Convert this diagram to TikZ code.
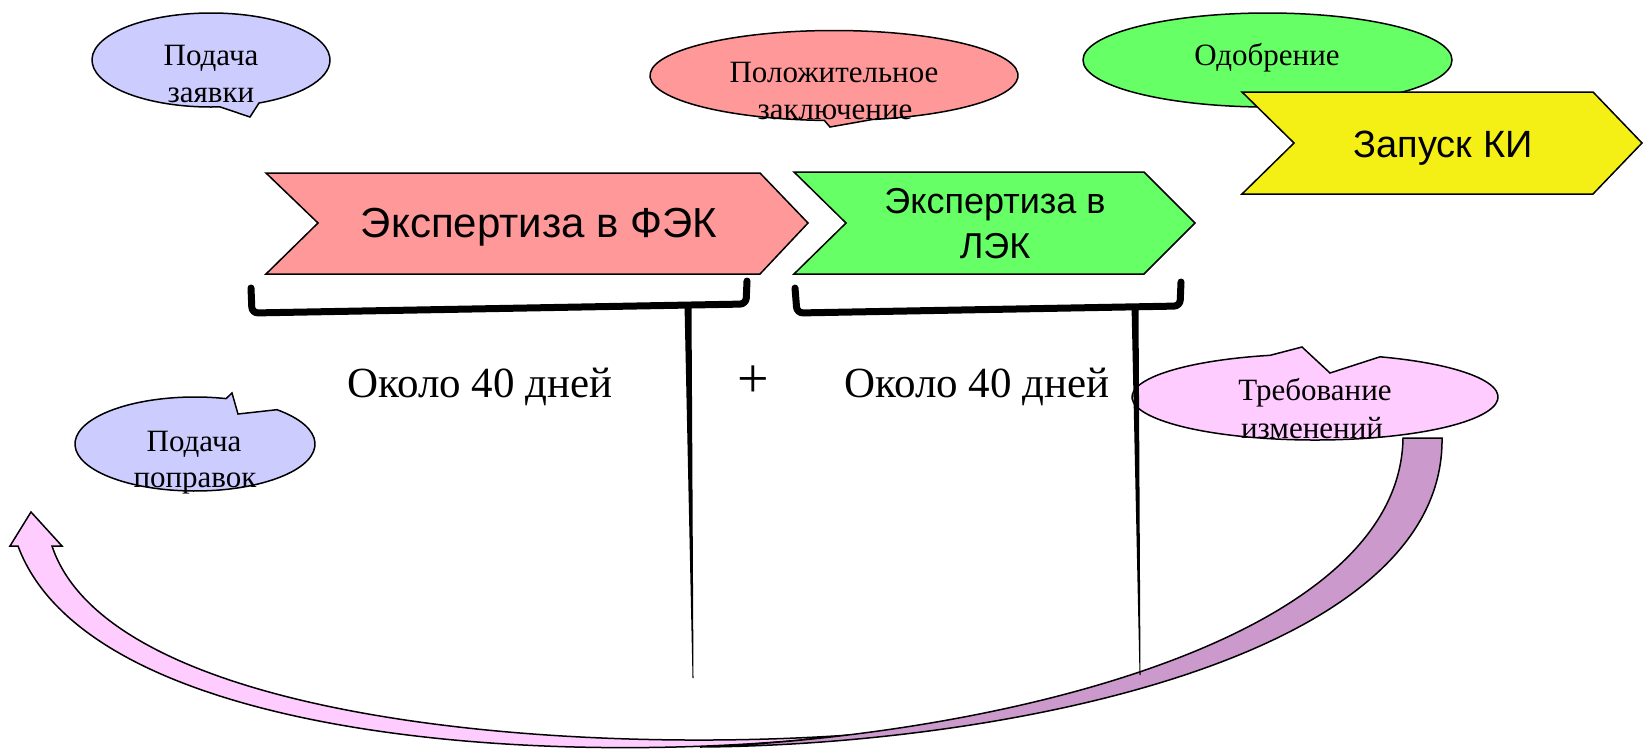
\documentclass[tikz,border=0pt]{standalone}
\usepackage{fontspec}
\setmainfont{Liberation Serif}
\newfontfamily\arialf{Liberation Sans}
\definecolor{pinkc}{HTML}{FF9999}
\definecolor{greenc}{HTML}{66FF66}
\definecolor{yellowc}{RGB}{244,240,22}
\definecolor{bluec}{HTML}{CCCCFF}
\definecolor{lpink}{HTML}{FFCCFF}
\definecolor{dpurple}{HTML}{CC99CC}
\begin{document}
\begin{tikzpicture}[x=1pt,y=-1pt,
  outl/.style={draw=black, line width=1.5pt, line join=miter},
  btxt/.style={font=\fontsize{31}{37}\selectfont, inner sep=0pt, anchor=base},
  dtxt/.style={font=\fontsize{43}{50}\selectfont, inner sep=0pt, anchor=base},
  ptxt/.style={font=\fontsize{56}{60}\selectfont, inner sep=0pt, anchor=base},
  atxt/.style={font=\arialf\fontsize{#1}{#1}\selectfont, inner sep=0pt, anchor=base},
  brk/.style={draw=black, line width=7pt, rounded corners=6pt, line cap=round}
]
\useasboundingbox (0,0) rectangle (1643,750);

% curved arrow (light front part)
\path[outl, fill=lpink] (850,735) .. controls (550,770) and (90,740) .. (18,546)
  -- (10,546) -- (31,512) -- (62,546) -- (52,546)
  .. controls (110,720) and (560,755) .. (850,735) -- cycle;
% curved arrow (dark back part)
\path[outl, fill=dpurple] (1442,438) .. controls (1445,660) and (1000,745) .. (700,747)
  .. controls (1000,735) and (1400,640) .. (1403,438) -- cycle;

% chevrons
\path[outl, fill=pinkc] (266,173) -- (760,173) -- (808,223) -- (760,274) -- (266,274) -- (318,223) -- cycle;
\path[outl, fill=greenc] (794,172) -- (1144,172) -- (1195,223) -- (1144,274) -- (794,274) -- (846,223) -- cycle;

% callouts
\path[outl, fill=bluec] (211,60) ++(85.7:119 and 47) arc[start angle=85.7, end angle=426.2, x radius=119, y radius=47] -- (250,117) -- cycle;
\path[outl, fill=pinkc] (834,75.5) ++(93:184 and 45) arc[start angle=93, end angle=438, x radius=184, y radius=45] -- (830,127) -- cycle;
\path[outl, fill=greenc] (1267.5,60) ellipse[x radius=184.5, y radius=47];
\path[outl, fill=yellowc] (1242,92) -- (1593,92) -- (1642,143) -- (1593,194) -- (1242,194) -- (1294,143) -- cycle;
\path[outl, fill=lpink] (1315,397) ++(290.8:183 and 43) arc[start angle=290.8, end angle=615.8, x radius=183, y radius=43] -- (1302,347) -- (1330,373) -- cycle;
\path[outl, fill=bluec] (195,444) ++(313.1:120 and 47) arc[start angle=313.1, end angle=645, x radius=120, y radius=47] -- (232,393) -- (238,414) -- cycle;

% brackets and stems
\draw[brk] (251,288) -- (252,313) -- (746,304) -- (747,281);
\draw[brk] (795,288) -- (797,313) -- (1180,306) -- (1181,282);
\fill[black] (684.5,305) -- (691.5,305) -- (693.5,678) -- (692.5,678) -- cycle;
\fill[black] (1131.5,305) -- (1138.5,305) -- (1140.5,675) -- (1139.5,675) -- cycle;

% texts
\node[btxt] (zay1) at (211,65) {Подача};
\node[btxt] (zay2) at (211,102) {заявки};
\node[btxt] (pol1) at (834,82) {Положительное};
\node[btxt] (pol2) at (835,119) {заключение};
\node[btxt] (odo) at (1267,65) {Одобрение};
\node[atxt=42] (fek) at (539,237) {Экспертиза в ФЭК};
\node[atxt=36] (lek1) at (995,213) {Экспертиза в};
\node[atxt=36] (lek2) at (995,258) {ЛЭК};
\node[atxt=38] (ki) at (1443,157) {Запуск КИ};
\node[dtxt] (d1) at (480,397) {Около 40 дней};
\node[ptxt] (plus) at (753,397) {+};
\node[dtxt] (d2) at (977,397) {Около 40 дней};
\node[btxt] (tr1) at (1315,400) {Требование};
\node[btxt] (tr2) at (1312,438) {изменений};
\node[btxt] (pp1) at (194,451) {Подача};
\node[btxt] (pp2) at (195,487) {поправок};
\end{tikzpicture}
\end{document}
